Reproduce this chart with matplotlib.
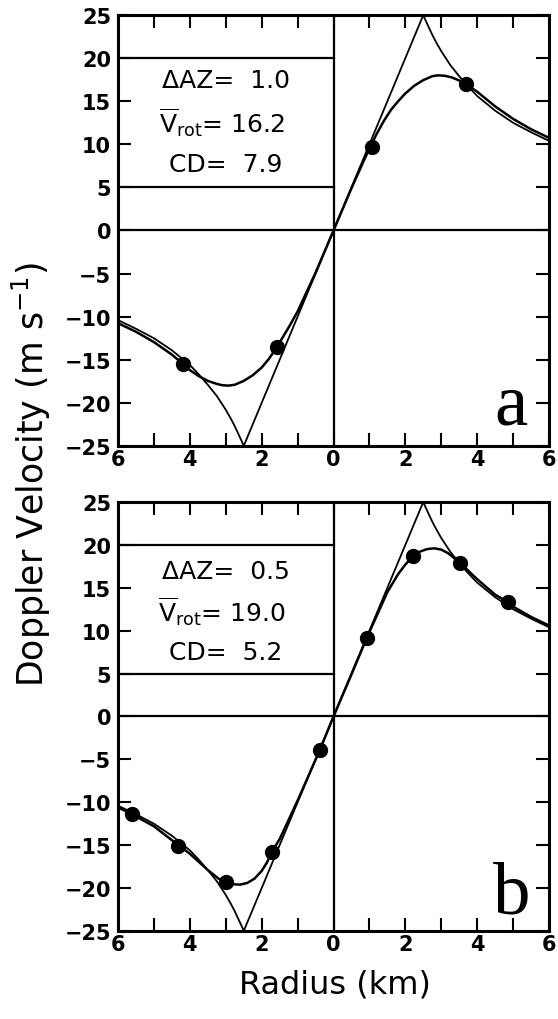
import numpy as np
import matplotlib
matplotlib.use("Agg")
import matplotlib.pyplot as plt
from matplotlib.ticker import MultipleLocator, FuncFormatter

# Rankine vortex profile (same in both panels)
rankine_x = [-6, -5.5, -5, -4.5, -4, -3.75, -3.5, -3.25, -3, -2.85, -2.75, -2.65, -2.55, -2.5, 0,
             2.5, 2.55, 2.65, 2.75, 2.85, 3, 3.25, 3.5, 3.75, 4, 4.5, 5, 5.5, 6]
rankine_y = [-10.4, -11.4, -12.5, -13.9, -15.6, -16.7, -17.9, -19.2, -20.8, -21.9, -22.7,
             -23.6, -24.5, -25, 0,
             25, 24.5, 23.6, 22.7, 21.9, 20.8, 19.2, 17.9, 16.7, 15.6, 13.9, 12.5, 11.4, 10.4]

# panel a: smoothed (simulated) profile, dAZ = 1.0
curve_a_x = [-6, -5.5, -5, -4.5, -4.19, -4, -3.75, -3.5, -3.25, -3.1, -2.93, -2.75, -2.5,
             -2.25, -2, -1.8, -1.58, -1.4, -1.2, -1, -0.5, 0, 0.5, 0.8, 1.0, 1.2, 1.4, 1.6,
             1.8, 2.0, 2.25, 2.5, 2.75, 2.9, 3.1, 3.3, 3.5, 3.75, 4.0, 4.5, 5.0, 5.5, 6.0]
curve_a_y = [-10.75, -11.75, -12.95, -14.4, -15.5, -16.2, -16.9, -17.45, -17.8, -17.95, -18.0,
             -17.9, -17.45, -16.8, -15.9, -14.9, -13.55, -12.3, -10.9, -9.4, -4.9, 0, 4.9,
             7.7, 9.5, 11.2, 12.7, 14.0, 15.0, 15.9, 16.8, 17.45, 17.9, 18.0, 17.95, 17.75,
             17.4, 16.8, 16.1, 14.4, 12.95, 11.75, 10.75]
pts_a_x = [-4.19, -1.58, 1.06, 3.68]
pts_a_y = [-15.5, -13.55, 9.65, 16.95]

# panel b: smoothed profile, dAZ = 0.5
curve_b_x = [-6, -5.61, -5, -4.32, -4, -3.5, -3.2, -2.99, -2.8, -2.6, -2.4, -2.2, -2, -1.85,
             -1.72, -1.5, -1, -0.38, 0, 0.5, 0.92, 1.5, 1.8, 2.0, 2.22, 2.4, 2.6, 2.8, 3.0,
             3.2, 3.52, 4.0, 4.5, 4.86, 5.0, 5.5, 6.0]
curve_b_y = [-10.6, -11.4, -12.8, -15.0, -16.0, -17.9, -18.9, -19.35, -19.55, -19.6, -19.4,
             -18.9, -18.0, -17.0, -15.8, -14.3, -9.8, -3.9, 0, 4.9, 9.1, 14.5, 16.6, 17.7,
             18.7, 19.2, 19.5, 19.6, 19.45, 19.0, 17.9, 16.0, 14.2, 13.3, 12.8, 11.6, 10.6]
pts_b_x = [-5.61, -4.32, -2.99, -1.72, -0.38, 0.92, 2.22, 3.52, 4.86]
pts_b_y = [-11.4, -15.05, -19.35, -15.85, -3.9, 9.1, 18.7, 17.9, 13.3]

daz = ["1.0", "0.5"]
vrot = ["16.2", "19.0"]
cd = ["7.9", "5.2"]
letters = ["a", "b"]

fig = plt.figure(figsize=(5.58, 10.2), dpi=100)
ax_a = fig.add_axes([0.2115, 0.5618, 0.7724, 0.4225])
ax_b = fig.add_axes([0.2115, 0.0863, 0.7724, 0.4206])

paneles = [
    (ax_a, curve_a_x, curve_a_y, pts_a_x, pts_a_y, [17.5, 12.6, 7.7], -22.4),
    (ax_b, curve_b_x, curve_b_y, pts_b_x, pts_b_y, [17.0, 12.3, 7.5], -22.8),
]

for i, (ax, cx, cy, px, py, ty, ly) in enumerate(paneles):
    ax.plot(rankine_x, rankine_y, color="black", linewidth=1.3)
    ax.plot(cx, cy, color="black", linewidth=1.8)
    ax.plot(px, py, "o", color="black", markersize=10)

    # reference lines and the text box
    ax.axhline(0, color="black", linewidth=1.6)
    ax.axvline(0, color="black", linewidth=1.6)
    ax.plot([-6, 0], [20, 20], color="black", linewidth=1.6)
    ax.plot([-6, 0], [5, 5], color="black", linewidth=1.6)

    ax.text(-3, ty[0], "ΔAZ=  " + daz[i], ha="center", va="center", fontsize=18)
    ax.text(-3.1, ty[1], r"$\overline{\mathrm{V}}_{\mathrm{rot}}$= " + vrot[i],
            ha="center", va="center", fontsize=18)
    ax.text(-3, ty[2], "CD=  " + cd[i], ha="center", va="center", fontsize=18)

    ax.text(4.95, ly, letters[i], ha="center", va="baseline", fontsize=54,
            family="Liberation Serif")

    ax.set_xlim(-6, 6)
    ax.set_ylim(-25, 25)
    ax.xaxis.set_major_locator(MultipleLocator(2))
    ax.xaxis.set_minor_locator(MultipleLocator(1))
    ax.xaxis.set_major_formatter(FuncFormatter(lambda v, p: "%d" % abs(round(v))))
    ax.yaxis.set_major_locator(MultipleLocator(5))
    ax.tick_params(which="both", direction="in", top=True, right=True,
                   length=9.5, width=1.5, labelsize=15)
    ax.tick_params(axis="x", pad=2)
    ax.tick_params(axis="y", pad=5)
    for lab in ax.get_xticklabels() + ax.get_yticklabels():
        lab.set_fontweight("bold")
    for s in ax.spines.values():
        s.set_linewidth(2.2)

fig.text(31 / 558, 1 - 475 / 1020, r"Doppler Velocity (m s$^{-1}$)", rotation=90,
         ha="center", va="center", fontsize=25)
fig.text(335 / 558, 1 - 985 / 1020, "Radius (km)", ha="center", va="center", fontsize=23)

fig.savefig("out.png", dpi=100)
